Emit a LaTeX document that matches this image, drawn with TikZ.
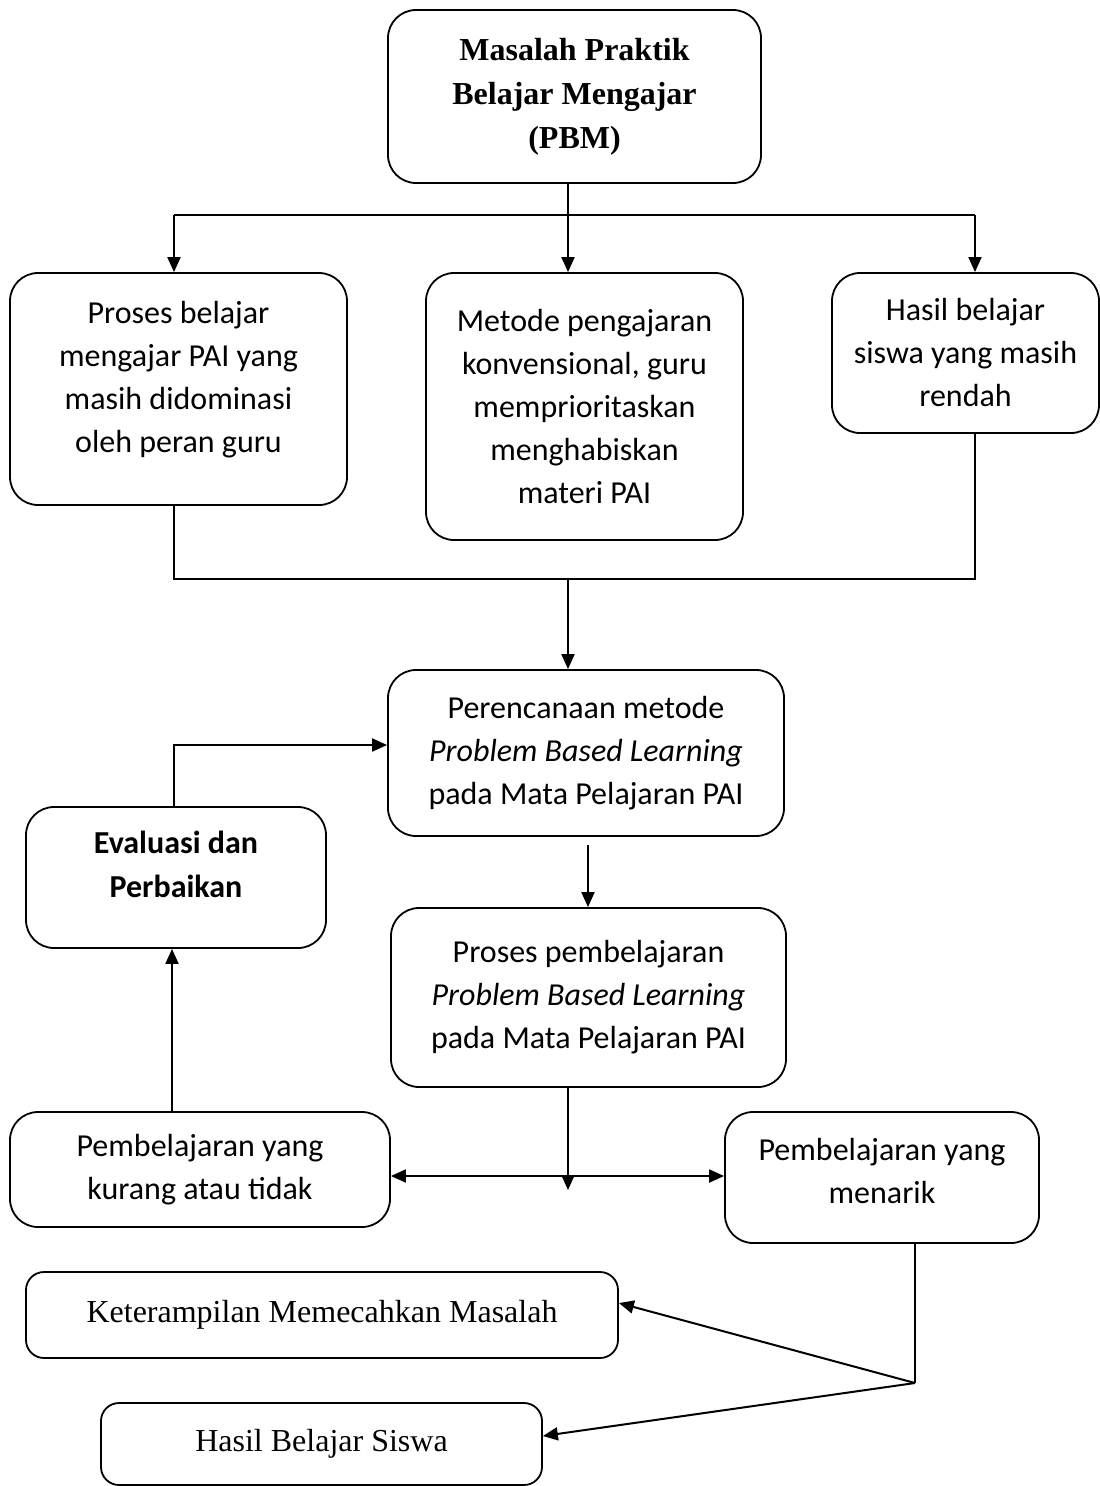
\documentclass[tikz,border=0pt]{standalone}
\usepackage{fontspec}
\setmainfont{Carlito}
\newfontfamily\tnr{Liberation Serif}
\usetikzlibrary{arrows.meta,calc}
\newcommand{\fsz}{\fontsize{32}{43}\selectfont}
\begin{document}
\begin{tikzpicture}[x=1pt,y=-1pt,
  box/.style={draw, line width=1.8pt, rounded corners=28pt, align=center, inner sep=0pt, font=\fsz},
  sbox/.style={box, rounded corners=18pt, font=\fsz\tnr},
  conn/.style={line width=2pt},
  arr/.style={conn, -{Triangle[length=15pt,width=13pt]}},
  darr/.style={conn, {Triangle[length=15pt,width=13pt]}-{Triangle[length=15pt,width=13pt]}}]
\useasboundingbox (0,0) rectangle (1100,1486);
% nodes
\node[box, minimum width=373pt, minimum height=173pt, font=\fontsize{32}{44}\selectfont\tnr\bfseries] (top) at (574.5,96.5) {Masalah Praktik\\Belajar Mengajar\\(PBM)};
\node[box, minimum width=337pt, minimum height=232pt, text depth=24pt] (left) at (178.5,389) {Proses belajar\\mengajar PAI yang\\masih didominasi\\oleh peran guru};
\node[box, minimum width=317pt, minimum height=267pt] (mid) at (584.5,406.5) {Metode pengajaran\\konvensional, guru\\memprioritaskan\\menghabiskan\\materi PAI};
\node[box, minimum width=267pt, minimum height=160pt] (right) at (965.5,353) {Hasil belajar\\siswa yang masih\\rendah};
\node[box, minimum width=396pt, minimum height=166pt] (plan) at (586,753) {Perencanaan metode\\\textit{Problem Based Learning}\\pada Mata Pelajaran PAI};
\node[box, minimum width=300pt, minimum height=141pt, text depth=26pt, font=\fontsize{32}{44}\selectfont\bfseries] (eval) at (176,877.5) {Evaluasi dan\\Perbaikan};
\node[box, minimum width=395pt, minimum height=179pt] (proc) at (588.5,997.5) {Proses pembelajaran\\\textit{Problem Based Learning}\\pada Mata Pelajaran PAI};
\node[box, minimum width=380pt, minimum height=115pt] (kurang) at (200,1169.5) {Pembelajaran yang\\kurang atau tidak};
\node[box, minimum width=314pt, minimum height=131pt, text depth=14pt] (menarik) at (882,1177.5) {Pembelajaran yang\\menarik};
\node[sbox, minimum width=592pt, minimum height=86pt] (ket) at (322,1315) {Keterampilan Memecahkan Masalah};
\node[sbox, minimum width=441pt, minimum height=82pt] (hasil) at (321.5,1444) {Hasil Belajar Siswa};
% junctions
\coordinate (a) at (174,215);
\coordinate (b) at (975,215);
\coordinate (c) at (568,215);
\coordinate (d) at (174,579);
\coordinate (e) at (975,579);
\coordinate (f) at (568,579);
\coordinate (g) at (588,845);
\coordinate (h) at (174,745);
\coordinate (i) at (172,1112);
\coordinate (k) at (568,1176);
\coordinate (k2) at (568,1190);
\coordinate (m) at (915,1383);
% connectors
\draw[conn] (top.south -| c) -- (c);
\draw[conn] (a) -- (b);
\draw[arr] (a) -- (a |- left.north);
\draw[arr] (c) -- (c |- mid.north);
\draw[arr] (b) -- (b |- right.north);
\draw[conn] (d |- left.south) -- (d) -- (e) -- (e |- right.south);
\draw[arr] (f) -- (f |- plan.north);
\draw[arr] (g) -- (g |- proc.north);
\draw[arr] (h |- eval.north) -- (h) -- (h -| plan.west);
\draw[arr] (i |- kurang.north) -- (i |- eval.south);
\draw[arr] (k |- proc.south) -- (k2);
\draw[darr] (kurang.east |- k) -- (menarik.west |- k);
\draw[conn] (m |- menarik.south) -- (m);
\draw[arr] (m) -- ([yshift=12pt]ket.east);
\draw[arr] (m) -- ([yshift=8pt]hasil.east);
\end{tikzpicture}
\end{document}
